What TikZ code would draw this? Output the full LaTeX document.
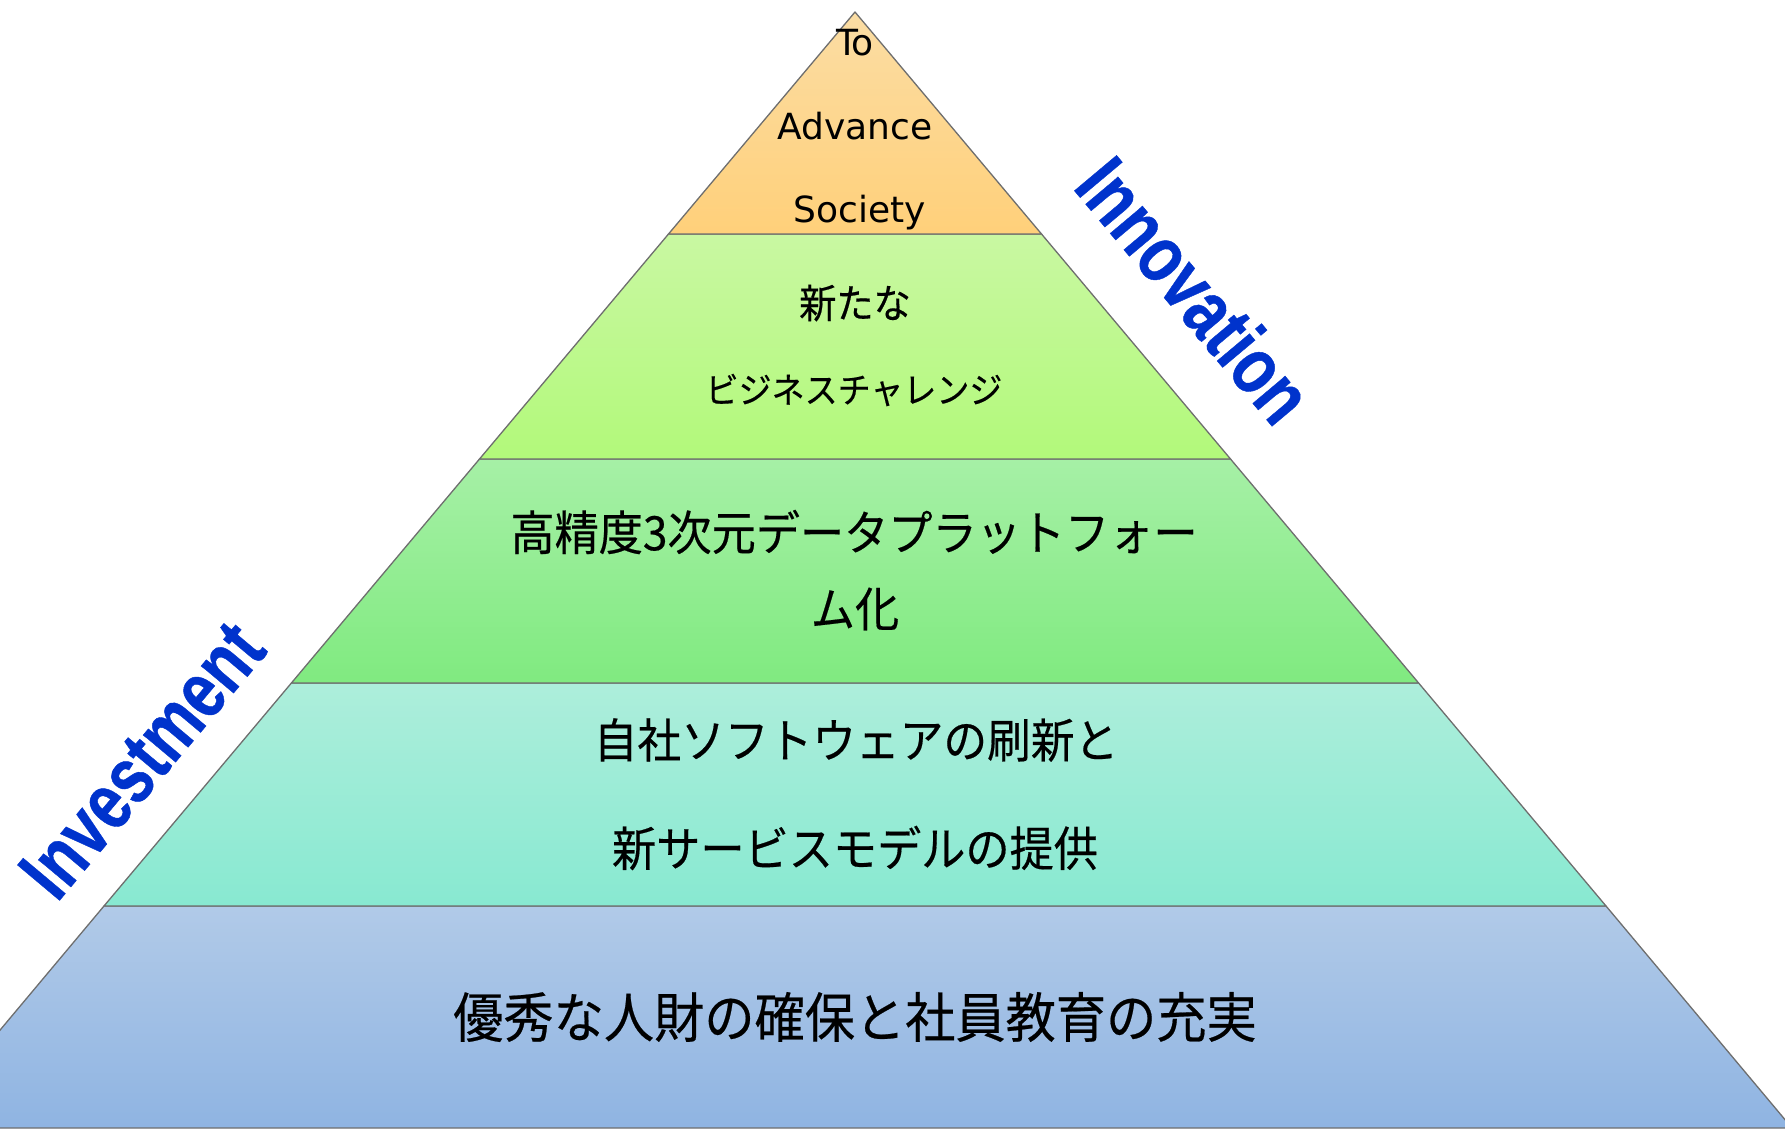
\documentclass[tikz,border=0pt]{standalone}
\usepackage{fontspec}
\newfontfamily\jp[FakeBold=0.4]{Noto Sans CJK JP}
\newfontfamily\dv{DejaVu Sans}
\newfontfamily\ar[FakeBold=0.6]{Liberation Sans}
\definecolor{edgegray}{HTML}{6E6E6E}
\definecolor{oA}{HTML}{FBDDA4}\definecolor{oB}{HTML}{FFD07A}
\definecolor{gA}{HTML}{C9F8A2}\definecolor{gB}{HTML}{B2F97A}
\definecolor{mA}{HTML}{A6F0A6}\definecolor{mB}{HTML}{80EA80}
\definecolor{tA}{HTML}{ADEEDB}\definecolor{tB}{HTML}{88E9D1}
\definecolor{bA}{HTML}{B1CAE8}\definecolor{bB}{HTML}{8FB4E2}
\definecolor{wordblue}{RGB}{0,51,204}
\begin{document}
\begin{tikzpicture}[x=1pt,y=-1pt,
  band/.style={draw=edgegray, line width=1.3pt, line join=round},
  lat/.style={font=\dv\fontsize{36}{36}\selectfont, text=black, inner sep=0pt},
  jpN/.style={font=\jp\fontsize{#1}{#1}\selectfont, text=black, inner sep=0pt, xscale=0.93},
  side/.style={font=\ar\bfseries\fontsize{80}{80}\selectfont, text=wordblue, inner sep=0pt}]
\useasboundingbox (0,0) rectangle (1785,1130);
\clip (0,0) rectangle (1785,1130);
% bands (half-width = 0.84*(y-12))
\path[band, top color=bA, bottom color=bB] (104,906) -- (1606,906) -- (1792,1128) -- (-82,1128) -- cycle;
\path[band, top color=tA, bottom color=tB] (291.4,683) -- (1418.6,683) -- (1606,906) -- (104,906) -- cycle;
\path[band, top color=mA, bottom color=mB] (479.5,459) -- (1230.5,459) -- (1418.6,683) -- (291.4,683) -- cycle;
\path[band, top color=gA, bottom color=gB] (668.5,234) -- (1041.5,234) -- (1230.5,459) -- (479.5,459) -- cycle;
\path[band, top color=oA, bottom color=oB] (855,12) -- (1041.5,234) -- (668.5,234) -- cycle;
% texts
\node[lat] (to) at (855,43) {To};
\node[lat] (adv) at (855,126) {Advance};
\node[lat] (soc) at (860,213) {Society};
\node[jpN=40] (l2a) at (855,303) {新たな};
\node[jpN=35.5] (l2b) at (854,390) {ビジネスチャレンジ};
\node[jpN=47.5] (l3a) at (854,532) {高精度3次元データプラットフォー};
\node[jpN=47.5] (l3b) at (855,609) {ム化};
\node[jpN=47] (l4a) at (856,740) {自社ソフトウェアの刷新と};
\node[jpN=47.5] (l4b) at (855,848) {新サービスモデルの提供};
\node[jpN=54] (l5) at (855,1017) {優秀な人財の確保と社員教育の充実};
\node[side, rotate=-50, xscale=0.78] (inno) at (1195,290) {Innovation};
\node[side, rotate=50, xscale=0.78] (inv) at (142,760) {Investment};
\end{tikzpicture}
\end{document}
